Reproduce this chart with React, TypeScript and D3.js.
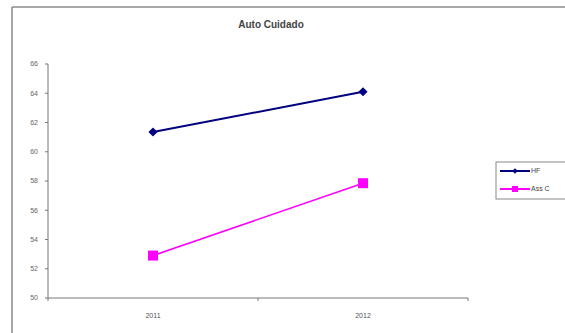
import React from "react";
import * as d3 from "d3";

const categories = ["2011", "2012"];
const hfValues = [61.35, 64.1];
const assValues = [52.9, 57.85];
const yTicks = [50, 52, 54, 56, 58, 60, 62, 64, 66];
const seriesNames = ["HF", "Ass C"];
const seriesColors = ["#000080", "#FF00FF"];

const W = 565;
const H = 333;
const plot = { left: 48, right: 468, top: 64, bottom: 298 };

export default function App() {
  const x = d3
    .scaleBand<string>()
    .domain(categories)
    .range([plot.left, plot.right]);
  const y = d3.scaleLinear().domain([50, 66]).range([plot.bottom, plot.top]);
  const cx = (c: string) => (x(c) as number) + x.bandwidth() / 2;

  const line = d3
    .line<number>()
    .x((_, i) => cx(categories[i]))
    .y((d) => y(d));

  // square rotated 45° gives the spreadsheet-style diamond marker
  const diamond = d3.symbol().type(d3.symbolSquare).size(42)();
  const font = "Arial, 'Liberation Sans', sans-serif";

  return (
    <svg
      width={W}
      height={H}
      style={{ position: "absolute", left: 0, top: 0, background: "#fff" }}
      fontFamily={font}
    >
      {/* chart frame */}
      <line x1={12} y1={7} x2={W} y2={7} stroke="#a8a8a8" strokeWidth={2} />
      <line x1={12} y1={7} x2={12} y2={H} stroke="#8a8a8a" strokeWidth={1.5} />

      <text
        x={271}
        y={28}
        textAnchor="middle"
        fontSize={10}
        fontWeight="bold"
        fill="#444"
      >
        Auto Cuidado
      </text>

      {/* y axis */}
      <line x1={plot.left} y1={plot.top} x2={plot.left} y2={plot.bottom} stroke="#777" />
      {yTicks.map((t) => (
        <g key={t}>
          <line x1={plot.left - 3} x2={plot.left} y1={y(t)} y2={y(t)} stroke="#777" />
          <text
            x={plot.left - 10}
            y={y(t)}
            dy="0.35em"
            textAnchor="end"
            fontSize={7}
            fill="#666"
          >
            {t}
          </text>
        </g>
      ))}

      {/* x axis */}
      <line x1={plot.left} y1={plot.bottom} x2={plot.right} y2={plot.bottom} stroke="#777" />
      {[...categories.map((c) => x(c) as number), plot.right].map((p, i) => (
        <line key={i} x1={p} x2={p} y1={plot.bottom} y2={plot.bottom + 3} stroke="#777" />
      ))}
      {categories.map((c) => (
        <text
          key={c}
          x={cx(c)}
          y={318}
          textAnchor="middle"
          fontSize={7}
          fill="#555"
        >
          {c}
        </text>
      ))}

      {/* series */}
      <path d={line(hfValues) || ""} fill="none" stroke={seriesColors[0]} strokeWidth={2} />
      {hfValues.map((v, i) => (
        <path
          key={i}
          d={diamond || ""}
          transform={`translate(${cx(categories[i])},${y(v)}) rotate(45)`}
          fill={seriesColors[0]}
        />
      ))}
      <path d={line(assValues) || ""} fill="none" stroke={seriesColors[1]} strokeWidth={1.6} />
      {assValues.map((v, i) => (
        <rect
          key={i}
          x={cx(categories[i]) - 5}
          y={y(v) - 5}
          width={10}
          height={10}
          fill={seriesColors[1]}
        />
      ))}

      {/* legend */}
      <rect x={496} y={162} width={80} height={37} fill="#fff" stroke="#888" strokeWidth={1} />
      {seriesNames.map((n, i) => {
        const ly = 171 + i * 18;
        return (
          <g key={n}>
            <line x1={500} x2={530} y1={ly} y2={ly} stroke={seriesColors[i]} strokeWidth={2} />
            {i === 0 ? (
              <path d={diamond || ""} transform={`translate(515,${ly}) rotate(45) scale(0.6)`} fill={seriesColors[i]} />
            ) : (
              <rect x={512} y={ly - 3} width={6} height={6} fill={seriesColors[i]} />
            )}
            <text x={531} y={ly} dy="0.35em" fontSize={7} fill="#444">
              {n}
            </text>
          </g>
        );
      })}
    </svg>
  );
}
